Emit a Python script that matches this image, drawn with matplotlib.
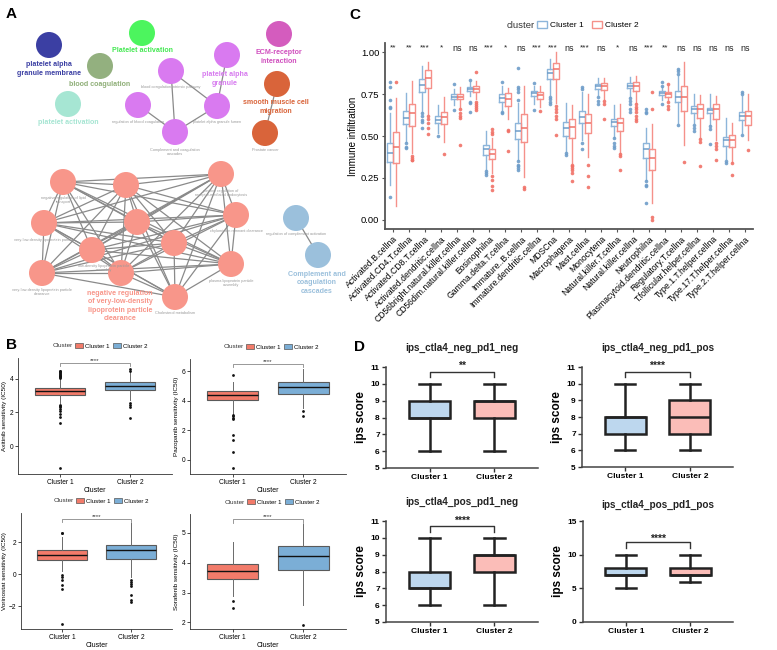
import matplotlib
matplotlib.use("Agg")
import matplotlib.pyplot as plt
from matplotlib.patches import Circle, Patch
from itertools import combinations

plt.rcParams['font.family'] = ['Liberation Sans', 'DejaVu Sans']

W, H = 777, 650
fig = plt.figure(figsize=(W / 100, H / 100), dpi=100)


def add_ax(x0, y0, x1, y1):
    return fig.add_axes([x0 / W, 1 - y1 / H, (x1 - x0) / W, (y1 - y0) / H])


def ftext(x, y, s, **kw):
    fig.text(x / W, 1 - y / H, s, **kw)

# ---------------------------------------------------------------- panel A
node_x = [49, 142, 100, 68, 171, 138, 217, 175, 227, 279, 277, 265,
          63, 126, 221, 44, 137, 236, 92, 174, 42, 121, 231, 175, 296, 318]
node_y = [45, 33, 66, 104, 71, 105, 106, 132, 55, 34, 84, 133,
          182, 185, 174, 223, 222, 215, 250, 243, 273, 273, 264, 297, 218, 255]
node_col = ['#3B3FA3', '#4CF55E', '#93B07F', '#A6E6D3'] + ['#D97AF0'] * 5 + \
           ['#D45CBE', '#D9643A', '#D9643A'] + ['#F8968A'] * 12 + ['#9BC0DC'] * 2
salmon_nodes = list(range(12, 24))
edges = [(4, 6), (4, 7), (5, 7), (6, 7), (8, 6), (10, 11), (24, 25)] + \
        [e for e in combinations(salmon_nodes, 2) if e not in [(12, 23), (15, 14)]]
big_labels = [
    ("platelet alpha\ngranule membrane", 49, 69, '#3B3FA3'),
    ("Platelet activation", 142, 51, '#44E852'),
    ("blood coagulation", 100, 84, '#8FAF78'),
    ("platelet activation", 68, 122, '#A5E5D2'),
    ("platelet alpha\ngranule", 225, 79, '#D77BEF'),
    ("ECM-receptor\ninteraction", 279, 57, '#D04FBE'),
    ("smooth muscle cell\nmigration", 276, 107, '#D9643A'),
    ("negative regulation\nof very-low-density\nlipoprotein particle\nclearance", 120, 306, '#F8968A'),
    ("Complement and\ncoagulation\ncascades", 317, 283, '#9BC0DC'),
]
small_labels = [
    ("blood coagulation,intrinsic pathway", 171, 87),
    ("regulation of blood coagulation", 138, 122),
    ("platelet alpha granule lumen", 217, 122),
    ("Complement and coagulation\ncascades", 175, 152),
    ("Prostate cancer", 265, 150),
    ("negative regulation of lipid\ntransport", 63, 200),
    ("positive regulation of\nreceptor-mediated endocytosis", 221, 193),
    ("very-low-density lipoprotein particle", 44, 240),
    ("chylomicron remnant clearance", 236, 231),
    ("very-low-density lipoprotein particle\nclearance", 42, 292),
    ("low-density lipoprotein particle\nassembly", 104, 268),
    ("plasma lipoprotein particle\nassembly", 231, 283),
    ("Cholesterol metabolism", 175, 313),
    ("regulation of complement activation", 296, 234),
]

axA = add_ax(0, 0, 370, 335)
axA.set_xlim(0, 370)
axA.set_ylim(335, 0)
axA.axis('off')
for a, b in edges:
    axA.plot([node_x[a], node_x[b]], [node_y[a], node_y[b]], color='#8a8a8a', lw=0.9, zorder=1)
for x, y, c in zip(node_x, node_y, node_col):
    axA.add_patch(Circle((x, y), 13, facecolor=c, edgecolor='none', zorder=2))
for s, x, y in small_labels:
    axA.text(x, y, s, fontsize=2.8, color='#999999', ha='center', va='center', zorder=3)
for s, x, y, c in big_labels:
    axA.text(x, y, s, fontsize=5.1, color=c, ha='center', va='center', fontweight='bold',
             zorder=4, linespacing=1.3)
ftext(6, 14, 'A', fontsize=11, fontweight='bold', va='center')

# ---------------------------------------------------------------- panel C
cells = ['Activated.B.cellna', 'Activated.CD4.T.cellna', 'Activated.CD8.T.cellna',
         'Activated.dendritic.cellna', 'CD56bright.natural.killer.cellna',
         'CD56dim.natural.killer.cellna', 'Eosinophilna', 'Gamma.delta.T.cellna',
         'Immature..B.cellna', 'Immature.dendritic.cellna', 'MDSCna', 'Macrophagena',
         'Mast.cellna', 'Monocytena', 'Natural.killer.T.cellna', 'Natural.killer.cellna',
         'Neutrophilna', 'Plasmacytoid.dendritic.cellna', 'Regulatory.T.cellna',
         'T.follicular.helper.cellna', 'Type.1.T.helper.cellna', 'Type.17.T.helper.cellna',
         'Type.2.T.helper.cellna']
cell_sig = ['**', '**', '***', '*', 'ns', 'ns', '***', '*', 'ns', '***', '***', 'ns',
            '***', 'ns', '*', 'ns', '***', '**', 'ns', 'ns', 'ns', 'ns', 'ns']

c1_q1 = [.343, .569, .764, .575, .72, .768, .387, .704, .484, .74, .837, .502,
         .575, .78, .561, .784, .367, .744, .70, .635, .635, .442, .595]
c1_med = [.397, .609, .804, .595, .734, .782, .421, .726, .532, .754, .873, .546,
          .611, .796, .585, .80, .421, .758, .73, .659, .655, .476, .619]
c1_q3 = [.46, .649, .839, .619, .748, .794, .448, .748, .579, .768, .897, .585,
         .651, .81, .603, .813, .456, .768, .768, .679, .669, .496, .641]
c1_lo = [.208, .466, .645, .52, .685, .738, .298, .655, .357, .69, .744, .407,
         .476, .744, .496, .734, .238, .714, .575, .575, .565, .361, .52]
c1_hi = [.635, .758, .917, .685, .78, .82, .532, .80, .694, .80, .956, .698,
         .76, .847, .685, .853, .546, .79, .86, .75, .75, .605, .74]
c1_out = [[.823, .794, .714, .675, .665, .139], [.456, .437, .427],
          [.639, .619, .595, .585, .546], [.502], [.807, .655], [.833, .704, .694, .645],
          [.29, .28, .27], [.823, .645, .635],
          [.903, .79, .78, .76, .714, .35, .33, .32, .31, .30], [.817, .655],
          [.73, .72, .70, .69], [.397, .387], [.79, .78, .456, .42], [.73, .71, .69],
          [.486, .46, .44, .426], [.725, .71, .69, .66, .645],
          [.659, .64, .635, .23, .21, .20, .103], [.82, .80, .688], [.90, .89, .87, .565],
          [.565, .55, .53], [.56, .54, .452], [.35, .34], [.764, .75, .505]]

c2_q1 = [.337, .561, .784, .569, .718, .764, .363, .68, .462, .718, .837, .49,
         .52, .776, .53, .768, .298, .734, .651, .605, .603, .437, .565]
c2_med = [.433, .636, .847, .615, .734, .782, .393, .72, .546, .744, .90, .552,
          .575, .798, .58, .80, .367, .75, .73, .661, .659, .476, .619]
c2_q3 = [.526, .688, .893, .643, .748, .80, .421, .754, .631, .762, .933, .60,
         .629, .817, .609, .82, .423, .764, .798, .688, .688, .506, .649]
c2_lo = [.085, .40, .63, .462, .67, .72, .28, .60, .254, .675, .694, .337,
         .377, .718, .397, .698, .099, .714, .446, .496, .476, .347, .476]
c2_hi = [.724, .826, .94, .73, .79, .825, .486, .785, .80, .80, 1.0, .685,
         .748, .843, .688, .857, .571, .80, .94, .744, .738, .575, .748]
c2_out = [[.823], [.38, .37, .36, .355], [.62, .60, .58, .55, .51], [.393],
          [.659, .635, .62, .61, .446], [.879, .70, .69, .68, .665, .655],
          [.54, .525, .51, .26, .24, .20, .18], [.536, .53, .413], [.198, .185], [.649],
          [.68, .66, .64, .62, .60, .506], [.33, .32, .31, .30, .28, .23],
          [.327, .262, .198], [.71, .69, .60], [.39, .38, .298],
          [.69, .67, .66, .64, .62, .60, .59], [.764, .659, .02, .0], [.81, .70, .68, .66],
          [.347], [.48, .466, .32], [.46, .44, .42, .36], [.34, .268], [.417]]

blue_c, red_c = '#8DB5DA', '#F5918A'
blue_d, red_d = '#6E9DC9', '#F07167'

axC = add_ax(385, 43, 753, 229)


def mkstats(q1, med, q3, lo, hi, out):
    return [dict(q1=a, med=b, q3=c, whislo=d, whishi=e, fliers=f)
            for a, b, c, d, e, f in zip(q1, med, q3, lo, hi, out)]


posC = list(range(1, len(cells) + 1))
for stats, off, c, cd in [(mkstats(c1_q1, c1_med, c1_q3, c1_lo, c1_hi, c1_out), -0.19, blue_c, blue_d),
                          (mkstats(c2_q1, c2_med, c2_q3, c2_lo, c2_hi, c2_out), 0.19, red_c, red_d)]:
    axC.bxp(stats, positions=[p + off for p in posC], widths=0.36, showcaps=False,
            boxprops=dict(color=c, lw=1.0), whiskerprops=dict(color=c, lw=1.0),
            medianprops=dict(color=cd, lw=1.1),
            flierprops=dict(marker='o', markerfacecolor=cd, markeredgecolor='none',
                            markersize=2.6, alpha=0.9),
            manage_ticks=False)
for p, s in zip(posC, cell_sig):
    axC.text(p, 1.024, s, ha='center', va='center', fontsize=6.5 if s == 'ns' else 6,
             color='#222222')
axC.set_xlim(0.5, len(cells) + 0.5)
axC.set_ylim(-0.054, 1.054)
axC.set_yticks([0, 0.25, 0.5, 0.75, 1.0])
axC.set_yticklabels(['0.00', '0.25', '0.50', '0.75', '1.00'], fontsize=6.8)
axC.set_xticks(posC)
axC.set_xticklabels(cells, rotation=45, ha='right', va='top', rotation_mode='anchor',
                    fontsize=6.2)
axC.set_ylabel('Immune infiltration', fontsize=7, labelpad=2)
for sp in ['top', 'right']:
    axC.spines[sp].set_visible(False)
for sp in ['left', 'bottom']:
    axC.spines[sp].set_color('#555555')
    axC.spines[sp].set_linewidth(1.3)
axC.tick_params(length=2.5, width=0.8, color='#555555', pad=1.5)
ftext(507, 25, 'cluster', fontsize=6.8, va='center', color='#333333')
fig.legend(handles=[Patch(facecolor='white', edgecolor=blue_c, lw=1),
                    Patch(facecolor='white', edgecolor=red_c, lw=1)],
           labels=['Cluster 1', 'Cluster 2'], ncol=2, loc='center left',
           bbox_to_anchor=(537 / W, 1 - 25 / H), frameon=False, fontsize=6.0,
           handlelength=1.2, handleheight=1.0, columnspacing=0.9, handletextpad=0.4,
           borderpad=0, borderaxespad=0)
ftext(349, 15, 'C', fontsize=11, fontweight='bold', va='center')

# ---------------------------------------------------------------- panel B
drugs = ['Axitinib', 'Pazopanib', 'Vorinostat', 'Sorafenib']
drug_q1 = [[3.06, 3.32], [4.02, 4.48], [0.87, 0.93], [3.47, 3.74]]
drug_med = [[3.26, 3.60], [4.41, 4.93], [1.20, 1.48], [3.72, 4.21]]
drug_q3 = [[3.46, 3.80], [4.68, 5.27], [1.48, 1.85], [3.97, 4.56]]
drug_lo = [[2.56, 2.76], [3.10, 3.50], [0.17, -0.15], [2.88, 2.58]]
drug_hi = [[4.00, 4.40], [5.30, 6.16], [2.30, 3.20], [4.70, 5.29]]
drug_out = [
    [[4.05, 4.1, 4.15, 4.2, 4.25, 4.3, 4.35, 4.4, 4.45, 4.5, 2.46, 2.4, 2.3, 2.2, 2.1, 1.9,
      1.76, 1.36, -1.34], [4.6, 4.5, 2.56, 2.45, 2.3, 1.66]],
    [[5.77, 3.05, 2.95, 2.85, 2.75, 1.66, 1.3, 0.5, -0.57], [3.32, 2.95]],
    [[2.56, 2.6, -0.05, -0.15, -0.35, -0.67, -0.9, -3.1],
     [-0.35, -0.5, -0.6, -0.77, -1.3, -1.6, -1.75]],
    [[2.71, 2.49], [1.93]],
]
drug_ylim = [(-1.67, 5.25), (-0.98, 6.84), (-3.43, 3.82), (1.78, 5.63)]
drug_ticks = [[0, 2, 4], [0, 2, 4, 6], [-2, 0, 2], [2, 3, 4, 5]]
drug_bracket = [(4.95, 4.78), (6.52, 6.32), (3.46, 3.28), (5.45, 5.33)]
drug_box = [(18, 358, 172, 474), (190, 359, 346, 474), (21, 513, 172, 629), (190, 514, 346, 629)]
drug_legend_x = [53, 224, 54, 225]
clusters = ['Cluster 1', 'Cluster 2']
b_red, b_blue = '#F27B6A', '#7BAED6'

for i, d in enumerate(drugs):
    x0, y0, x1, y1 = drug_box[i]
    ax = add_ax(x0, y0, x1, y1)
    st = [dict(q1=drug_q1[i][k], med=drug_med[i][k], q3=drug_q3[i][k], whislo=drug_lo[i][k],
               whishi=drug_hi[i][k], fliers=drug_out[i][k]) for k in range(2)]
    bp = ax.bxp(st, positions=[1, 2], widths=0.72, patch_artist=True, showcaps=False,
                boxprops=dict(edgecolor='#5a5a5a', lw=0.8),
                whiskerprops=dict(color='#6a6a6a', lw=0.7),
                medianprops=dict(color='#111111', lw=1.0),
                flierprops=dict(marker='o', markerfacecolor='#111111', markeredgecolor='none',
                                markersize=2.0))
    for patch, c in zip(bp['boxes'], [b_red, b_blue]):
        patch.set_facecolor(c)
    ax.set_xlim(0.4, 2.6)
    ax.set_ylim(*drug_ylim[i])
    ax.set_yticks(drug_ticks[i])
    ax.set_xticks([1, 2])
    ax.set_xticklabels(clusters)
    ax.tick_params(labelsize=4.8, length=2, width=0.5, pad=1.5)
    ax.set_xlabel('Cluster', fontsize=5, labelpad=1)
    ax.set_ylabel(d + ' sensitivity (IC50)', fontsize=4.6, labelpad=1.5)
    for sp in ['top', 'right']:
        ax.spines[sp].set_visible(False)
    for sp in ['left', 'bottom']:
        ax.spines[sp].set_linewidth(0.6)
        ax.spines[sp].set_color('#333333')
    top, leg = drug_bracket[i]
    ax.plot([1, 1, 2, 2], [leg, top, top, leg], color='#888888', lw=0.6, clip_on=False)
    ax.text(1.5, top, '****', ha='center', va='bottom', fontsize=4.5, color='#333333')
    ly = y0 - 12
    ftext(drug_legend_x[i], ly, 'Cluster', fontsize=4.6, va='center', color='#333333')
    fig.legend(handles=[Patch(facecolor=b_red, edgecolor='#555555', lw=0.5),
                        Patch(facecolor=b_blue, edgecolor='#555555', lw=0.5)],
               labels=clusters, ncol=2, loc='center left',
               bbox_to_anchor=((drug_legend_x[i] + 22) / W, 1 - ly / H), frameon=False,
               fontsize=4.4, handlelength=1.3, handleheight=0.9, columnspacing=0.6,
               handletextpad=0.3, borderpad=0, borderaxespad=0)
ftext(6, 345, 'B', fontsize=11, fontweight='bold', va='center')

# ---------------------------------------------------------------- panel D
ips_titles = ['ips_ctla4_neg_pd1_neg', 'ips_ctla4_neg_pd1_pos',
              'ips_ctla4_pos_pd1_neg', 'ips_ctla4_pos_pd1_pos']
ips_q1 = [[8, 8], [7, 7], [7, 8], [7, 7]]
ips_med = [[8, 9], [8, 8], [7, 9], [7, 7]]
ips_q3 = [[9, 9], [8, 9], [8, 9], [8, 8]]
ips_lo = [[6, 6], [6, 6], [6, 6], [5, 6]]
ips_hi = [[10, 10], [10, 10], [10, 10], [10, 10]]
ips_sig = ['**', '****', '****', '****']
ips_ylim = [(5, 11), (5, 11), (5, 11), (0, 15)]
ips_ticks = [list(range(5, 12)), list(range(5, 12)), list(range(5, 12)), [0, 5, 10, 15]]
ips_bracket = [(10.7, 10.4, 11.05), (10.7, 10.4, 11.05), (10.7, 10.35, 11.02), (11.9, 11.0, 12.3)]
ips_box = [(386, 367, 538, 468), (582, 367, 733, 467), (386, 521, 538, 622), (583, 521, 733, 622)]
ips_title_y = [348, 348, 502, 505]
d_blue, d_red = '#BDD7EE', '#FBBDB8'

for i, t in enumerate(ips_titles):
    x0, y0, x1, y1 = ips_box[i]
    ax = add_ax(x0, y0, x1, y1)
    st = [dict(q1=ips_q1[i][k], med=ips_med[i][k], q3=ips_q3[i][k], whislo=ips_lo[i][k],
               whishi=ips_hi[i][k], fliers=[]) for k in range(2)]
    bp = ax.bxp(st, positions=[1, 2], widths=0.64, patch_artist=True, capwidths=0.31,
                boxprops=dict(edgecolor='#222222', lw=1.8),
                whiskerprops=dict(color='#222222', lw=1.8),
                capprops=dict(color='#222222', lw=1.8),
                medianprops=dict(color='#222222', lw=1.8))
    for patch, c in zip(bp['boxes'], [d_blue, d_red]):
        patch.set_facecolor(c)
    ax.set_xlim(0.33, 2.67)
    ax.set_ylim(*ips_ylim[i])
    ax.set_yticks(ips_ticks[i])
    ax.set_xticks([1, 2])
    ax.set_xticklabels(clusters, fontweight='bold')
    for lab in ax.get_yticklabels():
        lab.set_fontweight('bold')
    ax.tick_params(labelsize=6, length=3, width=1.0, pad=1.5, color='#333333')
    ax.set_ylabel('ips score', fontsize=8.5, fontweight='bold', labelpad=2)
    for sp in ['top', 'right']:
        ax.spines[sp].set_visible(False)
    for sp in ['left', 'bottom']:
        ax.spines[sp].set_linewidth(1.1)
        ax.spines[sp].set_color('#444444')
    top, leg, ty = ips_bracket[i]
    ax.plot([1, 1, 2, 2], [leg, top, top, leg], color='#333333', lw=1.0, clip_on=False)
    ax.text(1.5, ty, ips_sig[i], ha='center', va='center', fontsize=7.5, fontweight='bold',
            color='#222222')
    ftext((x0 + x1) / 2, ips_title_y[i], t, ha='center', va='center', fontsize=7.2,
          fontweight='bold', color='#222222')
ftext(354, 347, 'D', fontsize=11, fontweight='bold', va='center')

fig.savefig('out.png', dpi=100)
